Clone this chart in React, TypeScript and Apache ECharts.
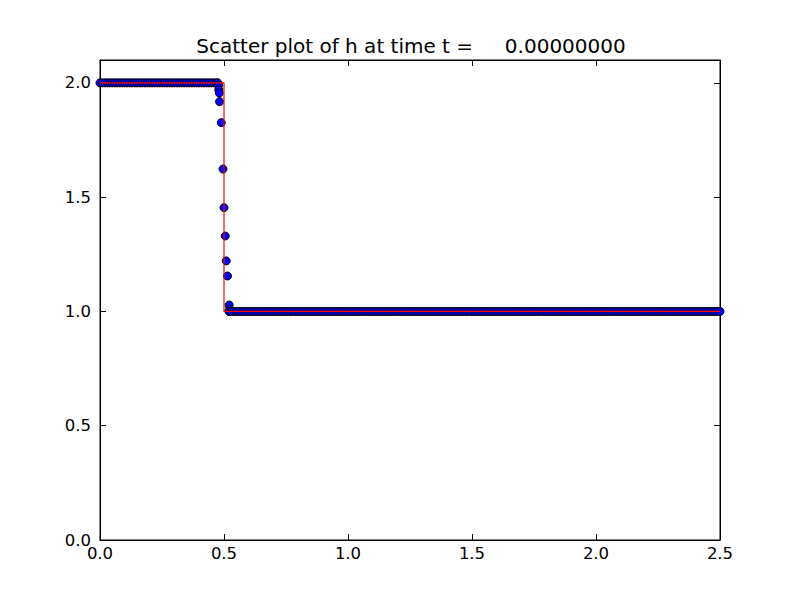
import React, { useEffect, useRef } from "react";
import * as echarts from "echarts";

const titleText = "Scatter plot of h at time t =     0.00000000";

// Exact (reference) solution: a step from h=2 to h=1 at x=0.5
const exactX = [0.0, 0.5, 0.5, 2.5];
const exactH = [2.0, 2.0, 1.0, 1.0];

// Computed points, upstream plateau (h = 2.0)
const upstreamH = 2.0;
const upstreamX = [
  0.0, 0.01, 0.02, 0.03, 0.04, 0.05, 0.06, 0.07, 0.08, 0.09,
  0.1, 0.11, 0.12, 0.13, 0.14, 0.15, 0.16, 0.17, 0.18, 0.19,
  0.2, 0.21, 0.22, 0.23, 0.24, 0.25, 0.26, 0.27, 0.28, 0.29,
  0.3, 0.31, 0.32, 0.33, 0.34, 0.35, 0.36, 0.37, 0.38, 0.39,
  0.4, 0.41, 0.42, 0.43, 0.44, 0.45, 0.46, 0.47, 0.475,
];

// Computed points across the jump
const stepX = [0.478, 0.479, 0.481, 0.482, 0.489, 0.496, 0.5, 0.505, 0.509, 0.514, 0.521, 0.523];
const stepH = [1.99, 1.97, 1.956, 1.918, 1.826, 1.623, 1.454, 1.33, 1.221, 1.155, 1.028, 1.01];

// Computed points, downstream plateau (h = 1.0)
const downstreamH = 1.0;
const downstreamX = [
  0.52, 0.53, 0.54, 0.55, 0.56, 0.57, 0.58, 0.59,
  0.6, 0.61, 0.62, 0.63, 0.64, 0.65, 0.66, 0.67, 0.68, 0.69,
  0.7, 0.71, 0.72, 0.73, 0.74, 0.75, 0.76, 0.77, 0.78, 0.79,
  0.8, 0.81, 0.82, 0.83, 0.84, 0.85, 0.86, 0.87, 0.88, 0.89,
  0.9, 0.91, 0.92, 0.93, 0.94, 0.95, 0.96, 0.97, 0.98, 0.99,
  1.0, 1.01, 1.02, 1.03, 1.04, 1.05, 1.06, 1.07, 1.08, 1.09,
  1.1, 1.11, 1.12, 1.13, 1.14, 1.15, 1.16, 1.17, 1.18, 1.19,
  1.2, 1.21, 1.22, 1.23, 1.24, 1.25, 1.26, 1.27, 1.28, 1.29,
  1.3, 1.31, 1.32, 1.33, 1.34, 1.35, 1.36, 1.37, 1.38, 1.39,
  1.4, 1.41, 1.42, 1.43, 1.44, 1.45, 1.46, 1.47, 1.48, 1.49,
  1.5, 1.51, 1.52, 1.53, 1.54, 1.55, 1.56, 1.57, 1.58, 1.59,
  1.6, 1.61, 1.62, 1.63, 1.64, 1.65, 1.66, 1.67, 1.68, 1.69,
  1.7, 1.71, 1.72, 1.73, 1.74, 1.75, 1.76, 1.77, 1.78, 1.79,
  1.8, 1.81, 1.82, 1.83, 1.84, 1.85, 1.86, 1.87, 1.88, 1.89,
  1.9, 1.91, 1.92, 1.93, 1.94, 1.95, 1.96, 1.97, 1.98, 1.99,
  2.0, 2.01, 2.02, 2.03, 2.04, 2.05, 2.06, 2.07, 2.08, 2.09,
  2.1, 2.11, 2.12, 2.13, 2.14, 2.15, 2.16, 2.17, 2.18, 2.19,
  2.2, 2.21, 2.22, 2.23, 2.24, 2.25, 2.26, 2.27, 2.28, 2.29,
  2.3, 2.31, 2.32, 2.33, 2.34, 2.35, 2.36, 2.37, 2.38, 2.39,
  2.4, 2.41, 2.42, 2.43, 2.44, 2.45, 2.46, 2.47, 2.48, 2.49, 2.5,
];

const xMin = 0;
const xMax = 2.5;
const xStep = 0.5;
const yMin = 0;
const yMax = 2.1;
const yStep = 0.5;

const FONT = "DejaVu Sans";

export default function App() {
  const ref = useRef<HTMLDivElement>(null);

  useEffect(() => {
    if (!ref.current) return;
    const chart = echarts.init(ref.current, undefined, { renderer: "svg" });

    const scatterData: number[][] = [];
    upstreamX.forEach((x) => scatterData.push([x, upstreamH]));
    stepX.forEach((x, i) => scatterData.push([x, stepH[i]]));
    downstreamX.forEach((x) => scatterData.push([x, downstreamH]));

    const exactData = exactX.map((x, i) => [x, exactH[i]]);

    const fmt = (v: number) => v.toFixed(1);

    const mkAxis = () => ({
      type: "value" as const,
      splitLine: { show: false },
      axisLine: { show: true, onZero: false, lineStyle: { color: "#000", width: 1 } },
      axisTick: { show: true, inside: true, length: 6, lineStyle: { color: "#000", width: 1 } },
    });

    chart.setOption({
      animation: false,
      backgroundColor: "#ffffff",
      title: {
        text: titleText,
        left: 406,
        top: 31,
        textAlign: "center",
        textStyle: { fontFamily: FONT, fontSize: 20, fontWeight: "normal", color: "#000" },
      },
      grid: {
        left: 100,
        right: 80,
        top: 60,
        bottom: 60,
        show: true,
        borderColor: "#000",
        borderWidth: 1,
        backgroundColor: "#fff",
      },
      xAxis: [
        {
          ...mkAxis(),
          position: "bottom",
          min: xMin,
          max: xMax,
          interval: xStep,
          axisLabel: {
            show: true,
            color: "#000",
            fontFamily: FONT,
            fontSize: 16.5,
            margin: 5,
            formatter: fmt,
          },
        },
        {
          ...mkAxis(),
          position: "top",
          min: xMin,
          max: xMax,
          interval: xStep,
          axisLabel: { show: false },
        },
      ],
      yAxis: [
        {
          ...mkAxis(),
          position: "left",
          min: yMin,
          max: yMax,
          interval: yStep,
          axisLabel: {
            show: true,
            color: "#000",
            fontFamily: FONT,
            fontSize: 16.5,
            margin: 9,
            showMaxLabel: false,
            formatter: fmt,
          },
        },
        {
          ...mkAxis(),
          position: "right",
          min: yMin,
          max: yMax,
          interval: yStep,
          axisLabel: { show: false },
        },
      ],
      series: [
        {
          type: "scatter",
          xAxisIndex: 0,
          yAxisIndex: 0,
          data: scatterData,
          symbol: "circle",
          symbolSize: 8,
          clip: true,
          itemStyle: { color: "#0000ff", borderColor: "#000", borderWidth: 1, opacity: 1 },
          z: 2,
        },
        {
          type: "line",
          xAxisIndex: 0,
          yAxisIndex: 0,
          data: exactData,
          showSymbol: false,
          symbol: "none",
          clip: true,
          lineStyle: { color: "#ff0000", width: 1.2 },
          z: 3,
        },
      ],
    });

    return () => chart.dispose();
  }, []);

  return (
    <div
      ref={ref}
      style={{ position: "fixed", left: 0, top: 0, width: 800, height: 600, background: "#fff" }}
    />
  );
}
